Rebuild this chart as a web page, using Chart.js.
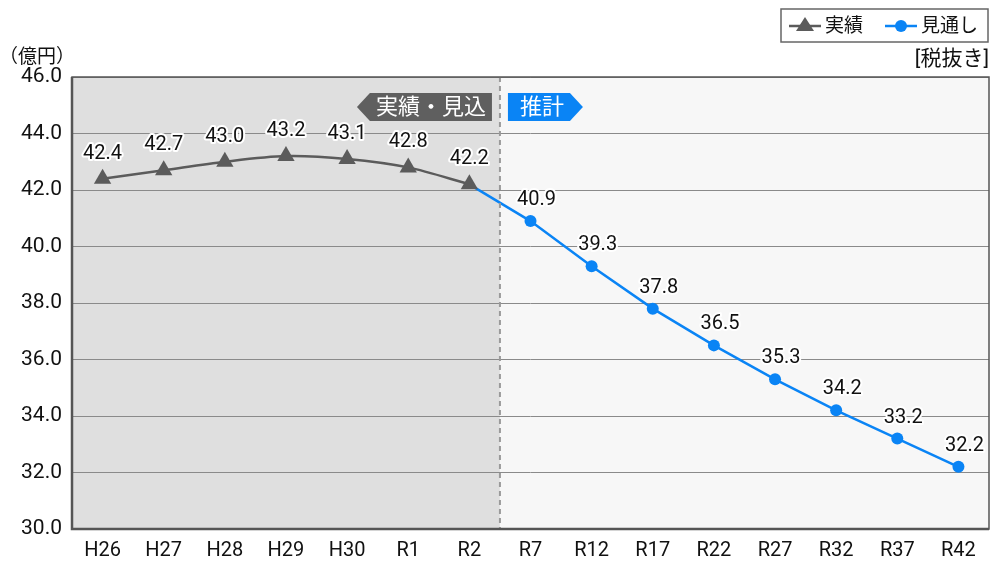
<!DOCTYPE html>
<html>
<head>
<meta charset="utf-8">
<script src="https://cdn.jsdelivr.net/npm/chart.js@4"></script>
<style>
  html, body { margin: 0; padding: 0; background: #fff; }
  #wrap { width: 992px; height: 562px; }
</style>
</head>
<body>
<div id="wrap"><canvas id="myChart" width="992" height="562"></canvas></div>
<script>
const categories = ["H26", "H27", "H28", "H29", "H30", "R1", "R2", "R7", "R12", "R17", "R22", "R27", "R32", "R37", "R42"];
const actualValues = [42.4, 42.7, 43.0, 43.2, 43.1, 42.8, 42.2, null, null, null, null, null, null, null, null];
const forecastValues = [null, null, null, null, null, null, 42.2, 40.9, 39.3, 37.8, 36.5, 35.3, 34.2, 33.2, 32.2];
const yTicks = [30, 32, 34, 36, 38, 40, 42, 44, 46];

const FONT = "Roboto, 'Noto Sans CJK JP', sans-serif";
const grayColor = "#5b5b5b";
const blueColor = "#0a84f5";
const splitIndex = 6; // last actual point (R2)

// draws the shading, dashed divider, banners, labels and legend box
const decorPlugin = {
  id: 'decor',
  beforeDraw(chart) {
    const ctx = chart.ctx;
    const area = chart.chartArea;
    const x = chart.scales.x;
    const splitX = (x.getPixelForValue(splitIndex) + x.getPixelForValue(splitIndex + 1)) / 2;
    ctx.save();
    ctx.fillStyle = "#dfdfdf";
    ctx.fillRect(area.left, area.top, splitX - area.left, area.bottom - area.top);
    ctx.fillStyle = "#f7f7f7";
    ctx.fillRect(splitX, area.top, area.right - splitX, area.bottom - area.top);
    ctx.restore();
  },
  afterDatasetsDraw(chart) {
    const ctx = chart.ctx;
    const area = chart.chartArea;
    const x = chart.scales.x;
    const splitX = (x.getPixelForValue(splitIndex) + x.getPixelForValue(splitIndex + 1)) / 2;

    ctx.save();
    // dashed divider
    ctx.strokeStyle = "#9a9a9a";
    ctx.lineWidth = 2;
    ctx.setLineDash([5, 4]);
    ctx.beginPath();
    ctx.moveTo(splitX, area.top);
    ctx.lineTo(splitX, area.bottom);
    ctx.stroke();
    ctx.setLineDash([]);

    // plot border
    ctx.strokeStyle = "#555";
    ctx.lineWidth = 1.5;
    ctx.strokeRect(area.left, area.top, area.right - area.left, area.bottom - area.top);
    ctx.lineWidth = 2.5;
    ctx.beginPath();
    ctx.moveTo(area.left, area.top);
    ctx.lineTo(area.left, area.bottom);
    ctx.lineTo(area.right, area.bottom);
    ctx.stroke();

    // banners
    const bTop = area.top + 16, bH = 28;
    ctx.fillStyle = "#5f5f5f";
    ctx.beginPath();
    ctx.moveTo(splitX - 8, bTop);
    ctx.lineTo(splitX - 130, bTop);
    ctx.lineTo(splitX - 143, bTop + bH / 2);
    ctx.lineTo(splitX - 130, bTop + bH);
    ctx.lineTo(splitX - 8, bTop + bH);
    ctx.closePath();
    ctx.fill();
    ctx.fillStyle = blueColor;
    ctx.beginPath();
    ctx.moveTo(splitX + 8, bTop);
    ctx.lineTo(splitX + 70, bTop);
    ctx.lineTo(splitX + 83, bTop + bH / 2);
    ctx.lineTo(splitX + 70, bTop + bH);
    ctx.lineTo(splitX + 8, bTop + bH);
    ctx.closePath();
    ctx.fill();
    ctx.fillStyle = "#fff";
    ctx.font = "22px " + FONT;
    ctx.textBaseline = "middle";
    ctx.textAlign = "center";
    ctx.fillText("実績・見込", splitX - 69, bTop + bH / 2 + 1);
    ctx.fillText("推計", splitX + 42, bTop + bH / 2 + 1);

    // value labels with white halo
    ctx.font = "20px " + FONT;
    ctx.textBaseline = "middle";
    ctx.lineJoin = "round";
    const drawLabels = (dsIndex, dx, dy, skip) => {
      const meta = chart.getDatasetMeta(dsIndex);
      const data = chart.data.datasets[dsIndex].data;
      meta.data.forEach((pt, i) => {
        if (data[i] === null || skip(i)) return;
        const txt = data[i].toFixed(1);
        ctx.strokeStyle = "#fff";
        ctx.lineWidth = 4;
        ctx.strokeText(txt, pt.x + dx, pt.y - dy);
        ctx.fillStyle = "#111";
        ctx.fillText(txt, pt.x + dx, pt.y - dy);
      });
    };
    drawLabels(0, 0, 25, () => false);
    drawLabels(1, 6, 21, i => i <= splitIndex);
    ctx.restore();
  },
  afterDraw(chart) {
    const ctx = chart.ctx;
    ctx.save();
    // legend box
    ctx.fillStyle = "#fff";
    ctx.fillRect(781, 9, 207, 33);
    ctx.strokeStyle = "#666";
    ctx.lineWidth = 1.5;
    ctx.strokeRect(781, 9, 207, 33);
    ctx.lineWidth = 2.5;
    ctx.strokeStyle = grayColor;
    ctx.beginPath(); ctx.moveTo(789, 26); ctx.lineTo(821, 26); ctx.stroke();
    ctx.fillStyle = grayColor;
    ctx.beginPath(); ctx.moveTo(805, 17); ctx.lineTo(814, 31); ctx.lineTo(796, 31); ctx.closePath(); ctx.fill();
    ctx.strokeStyle = blueColor;
    ctx.beginPath(); ctx.moveTo(885, 26); ctx.lineTo(917, 26); ctx.stroke();
    ctx.fillStyle = blueColor;
    ctx.beginPath(); ctx.arc(901, 26, 6, 0, Math.PI * 2); ctx.fill();
    ctx.fillStyle = "#111";
    ctx.font = "19px " + FONT;
    ctx.textBaseline = "middle";
    ctx.textAlign = "left";
    ctx.fillText("実績", 825, 27);
    ctx.fillText("見通し", 921, 27);
    // units
    ctx.font = "21px " + FONT;
    ctx.textAlign = "right";
    ctx.fillText("[税抜き]", 989, 60);
    ctx.font = "19px " + FONT;
    ctx.textAlign = "left";
    ctx.fillText("（億円）", -1, 58);
    ctx.restore();
  }
};

new Chart('myChart', {
  type: 'line',
  data: {
    labels: categories,
    datasets: [{
      label: '実績',
      data: actualValues,
      borderColor: grayColor,
      backgroundColor: grayColor,
      borderWidth: 2.5,
      tension: 0.3,
      pointStyle: 'triangle',
      pointRadius: 10,
      pointBorderWidth: 0,
      spanGaps: false
    }, {
      label: '見通し',
      data: forecastValues,
      borderColor: blueColor,
      backgroundColor: blueColor,
      borderWidth: 2.5,
      tension: 0,
      pointStyle: 'circle',
      pointRadius: forecastValues.map((v, i) => i <= splitIndex ? 0 : 6),
      pointBorderWidth: 0
    }]
  },
  options: {
    responsive: false,
    animation: false,
    layout: { autoPadding: false, padding: { top: 77, right: 3, left: 0, bottom: 0 } },
    plugins: {
      legend: { display: false },
      tooltip: { enabled: false }
    },
    scales: {
      x: {
        offset: true,
        grid: { display: false, drawTicks: false, offset: true },
        border: { display: false },
        ticks: { color: "#111", font: { size: 20, family: FONT }, padding: 10, maxRotation: 0, autoSkip: false },
        afterFit(axis) { axis.height = 33; }
      },
      y: {
        min: 30,
        max: 46,
        afterBuildTicks(axis) { axis.ticks = yTicks.map(v => ({ value: v })); },
        grid: { color: "#8a8a8a", lineWidth: 1, drawTicks: false },
        border: { display: false },
        ticks: {
          color: "#111",
          font: { size: 21, family: FONT },
          padding: 10,
          callback: v => v.toFixed(1)
        },
        afterFit(axis) { axis.width = 72; }
      }
    }
  },
  plugins: [decorPlugin]
});
</script>
</body>
</html>
